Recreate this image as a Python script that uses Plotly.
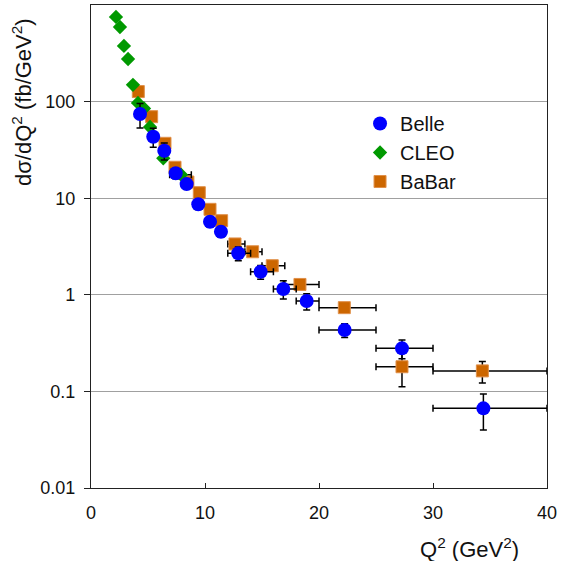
import plotly.graph_objects as go

# ---------------- data ----------------
belle_q2 = [4.30, 5.46, 6.43, 7.43, 8.39, 9.41, 10.44, 11.40, 12.92, 14.88, 16.87, 18.92, 22.25, 27.28, 34.42]
belle_val = [74.4, 43.3, 31.0, 18.1, 14.0, 8.65, 5.71, 4.50, 2.69, 1.73, 1.15, 0.863, 0.432, 0.279, 0.0668]
belle_err = [21.0, 9.7, 6.2, 2.2, 1.6, 1.0, 0.7, 0.55, 0.44, 0.28, 0.245, 0.165, 0.07, 0.061, 0.027]
belle_bin_lo = [4.30, 5.46, 6.43, 7.43, 8.39, 9.41, 10.44, 11.40, 12, 14, 16, 18, 20, 25, 30]
belle_bin_hi = [4.30, 5.46, 6.43, 7.43, 8.39, 9.41, 10.44, 11.40, 14, 16, 18, 20, 25, 30, 40]

cleo_q2 = [2.19, 2.54, 2.89, 3.25, 3.68, 4.12, 4.65, 5.18, 6.34, 7.90]
cleo_val = [752, 592, 377, 276, 149, 97, 85, 54.6, 25.9, 17.5]
cleo_err = [0, 0, 0, 0, 0, 0, 0, 0, 0, 0]
cleo_bin_lo = [2.19, 2.54, 2.89, 3.25, 3.68, 4.12, 4.65, 5.18, 6.34, 6.9]
cleo_bin_hi = [2.19, 2.54, 2.89, 3.25, 3.68, 4.12, 4.65, 5.18, 6.34, 8.8]

babar_q2 = [4.15, 5.32, 6.49, 7.37, 8.50, 9.50, 10.44, 11.46, 12.63, 14.18, 15.90, 18.33, 22.22, 27.28, 34.33]
babar_val = [127, 69.8, 37.0, 20.9, 14.7, 11.4, 7.67, 5.85, 3.36, 2.79, 2.00, 1.28, 0.736, 0.180, 0.163]
babar_err = [5, 3, 1.6, 1.0, 0.7, 0.5, 0.35, 0.3, 0.17, 0.14, 0.1, 0.07, 0.04, 0.068, 0.041]
babar_bin_lo = [4.15, 5.32, 6.49, 7.37, 8.50, 9.50, 10.44, 11.46, 12, 13.5, 15, 17, 20, 25, 30]
babar_bin_hi = [4.15, 5.32, 6.49, 7.37, 8.50, 9.50, 10.44, 11.46, 13.5, 15, 17, 20, 25, 30, 40]

y_tick_vals = [0.01, 0.1, 1, 10, 100]
y_tick_text = ["0.01", "0.1", "1", "10", "100"]
x_tick_vals = [0, 10, 20, 30, 40]

FONT = "Liberation Sans, Arial, sans-serif"


def xerr(q, lo, hi):
    plus = [h - x for x, h in zip(q, hi)]
    minus = [x - l for x, l in zip(q, lo)]
    return plus, minus


fig = go.Figure()

bp, bm = xerr(babar_q2, babar_bin_lo, babar_bin_hi)
fig.add_trace(go.Scatter(
    x=babar_q2, y=babar_val, mode="markers", name="BaBar", legendrank=3,
    legendgroup="c",
    marker=dict(symbol="square", size=12, color="#CC6600",
                line=dict(color="#E0904A", width=1)),
    error_y=dict(type="data", array=babar_err, color="black", thickness=1.5, width=3.5),
    error_x=dict(type="data", array=bp, arrayminus=bm, color="black", thickness=1.5, width=3.5),
))

cp, cm = xerr(cleo_q2, cleo_bin_lo, cleo_bin_hi)
fig.add_trace(go.Scatter(
    x=cleo_q2, y=cleo_val, mode="markers", name="CLEO", legendrank=2,
    legendgroup="b",
    marker=dict(symbol="diamond", size=11, color="#009900"),
    error_y=dict(type="data", array=cleo_err, color="black", thickness=1.5, width=0),
    error_x=dict(type="data", array=cp, arrayminus=cm, color="black", thickness=1.5, width=3.5),
))

ep, em = xerr(belle_q2, belle_bin_lo, belle_bin_hi)
fig.add_trace(go.Scatter(
    x=belle_q2, y=belle_val, mode="markers", name="Belle", legendrank=1,
    legendgroup="a",
    marker=dict(symbol="circle", size=14, color="#0000FF"),
    error_y=dict(type="data", array=belle_err, color="black", thickness=1.5, width=3.5),
    error_x=dict(type="data", array=ep, arrayminus=em, color="black", thickness=1.5, width=3.5),
))

fig.update_layout(
    width=562, height=561,
    margin=dict(l=91, r=15, t=5, b=73),
    paper_bgcolor="white", plot_bgcolor="white",
    font=dict(family=FONT, size=18, color="#111"),
    showlegend=True,
    legend=dict(x=0.59, y=0.795, xanchor="left", yanchor="top",
                bgcolor="rgba(0,0,0,0)", font=dict(size=20, color="#111"),
                tracegroupgap=0),
    xaxis=dict(range=[0, 40], tickvals=x_tick_vals, ticks="inside", ticklen=5,
               tickcolor="#222", showgrid=False, zeroline=False,
               showline=True, linecolor="#222", linewidth=1.2, mirror=True,
               ticklabelstandoff=8),
    yaxis=dict(type="log", range=[-2, 3], tickvals=y_tick_vals, ticktext=y_tick_text,
               ticks="outside", ticklen=6, tickcolor="#222",
               showgrid=True, gridcolor="#A0A0A0", gridwidth=1.2,
               zeroline=False, showline=True, linecolor="#222", linewidth=1.2,
               mirror=True, ticklabelstandoff=5),
    annotations=[
        dict(text="dσ/dQ<sup>2</sup> (fb/GeV<sup>2</sup>)", xref="paper", yref="paper",
             x=(22 - 91) / 456, y=(488 - 102) / 483, textangle=-90,
             showarrow=False, xanchor="center", yanchor="middle",
             font=dict(size=22, color="#111")),
        dict(text="Q<sup>2</sup> (GeV<sup>2</sup>)", xref="paper", yref="paper",
             x=(521 - 91) / 456, y=-(548 - 488) / 483, showarrow=False,
             xanchor="right", yanchor="middle", font=dict(size=22, color="#111")),
    ],
)

fig.write_html("out.html", config={"displayModeBar": False},
               post_script="document.body.style.margin='0';document.body.style.overflow='hidden';")
